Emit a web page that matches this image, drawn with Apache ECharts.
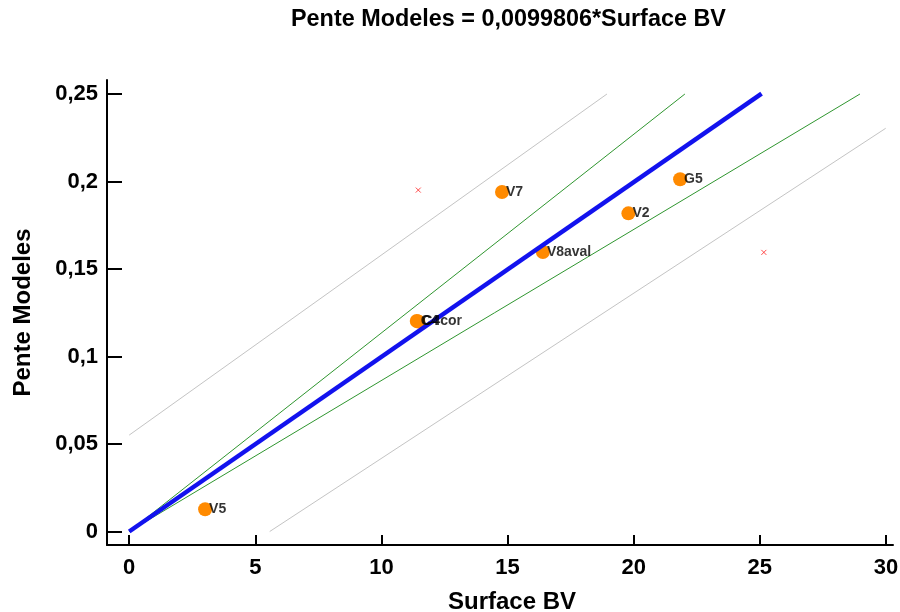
<!DOCTYPE html>
<html>
<head>
<meta charset="utf-8">
<script src="https://cdn.jsdelivr.net/npm/echarts@6/dist/echarts.min.js"></script>
<style>html,body{margin:0;padding:0;background:#fff;}#c{width:900px;height:612px;}</style>
</head>
<body>
<div id="c"></div>
<script>
// ---- data ----
const titleText = 'Pente Modeles = 0,0099806*Surface BV';
const xName = 'Surface BV';
const yName = 'Pente Modeles';
const xTicks = [0, 5, 10, 15, 20, 25, 30];
const yTicks = [0, 0.05, 0.1, 0.15, 0.2, 0.25];

const pointNames = ['V5', 'C4', 'C4cor', 'V7', 'V8aval', 'V2', 'G5'];
const surfaceBV = [3.01, 11.40, 11.46, 14.78, 16.40, 19.79, 21.84];
const penteModeles = [0.0127, 0.1203, 0.1200, 0.194, 0.1597, 0.1818, 0.2013];

const fitX = [0, 25.07];
const fitY = [0, 0.2502];
const confUpX = [0, 22.03];
const confUpY = [0, 0.25];
const confLoX = [0, 28.97];
const confLoY = [0, 0.25];
const predUpX = [0, 18.94];
const predUpY = [0.0551, 0.25];
const predLoX = [5.57, 29.99];
const predLoY = [0, 0.2304];
const outlierX = [11.46, 25.16];
const outlierY = [0.1951, 0.1595];

// ---- chart ----
const FONT = "'Liberation Sans', Arial, sans-serif";
const pairs = (xs, ys) => xs.map((x, i) => [x, ys[i]]);
const fmt = v => String(+v.toFixed(4)).replace('.', ',');

const lineSeries = (xs, ys, color, width, z) => ({
  type: 'line', data: pairs(xs, ys), symbol: 'none', silent: true, z: z,
  lineStyle: { color: color, width: width }, animation: false
});

const chart = echarts.init(document.getElementById('c'), null, { renderer: 'canvas' });
chart.setOption({
  animation: false,
  backgroundColor: '#ffffff',
  title: {
    text: titleText, left: 291, top: 8, padding: 0,
    textStyle: { fontFamily: FONT, fontWeight: 'bold', fontSize: 23.4, color: '#000' }
  },
  grid: { left: 107, right: 7, top: 80, bottom: 67, containLabel: false, outerBoundsMode: 'none' },
  xAxis: {
    type: 'value', min: -0.88, max: 30.28,
    name: xName, nameLocation: 'middle', nameGap: 45,
    nameTextStyle: { fontFamily: FONT, fontWeight: 'bold', fontSize: 24, color: '#000', padding: [0, 0, 0, 24] },
    axisLine: { onZero: false, lineStyle: { color: '#000', width: 2 } },
    axisTick: { inside: true, length: 10, lineStyle: { color: '#000', width: 2 }, customValues: xTicks },
    axisLabel: { customValues: xTicks, margin: 12, fontFamily: FONT, fontWeight: 'bold', fontSize: 22, color: '#000', formatter: v => fmt(v) },
    splitLine: { show: false }
  },
  yAxis: {
    type: 'value', min: -0.0077, max: 0.258,
    name: yName, nameLocation: 'middle', nameGap: 72, nameRotate: 90,
    nameTextStyle: { fontFamily: FONT, fontWeight: 'bold', fontSize: 24, color: '#000' },
    axisLine: { onZero: false, lineStyle: { color: '#000', width: 2 } },
    axisTick: { inside: true, length: 15, lineStyle: { color: '#000', width: 2 }, customValues: yTicks },
    axisLabel: { customValues: yTicks, margin: 9, fontFamily: FONT, fontWeight: 'bold', fontSize: 22, color: '#000', formatter: v => fmt(v) },
    splitLine: { show: false }
  },
  series: [
    lineSeries(predUpX, predUpY, '#c4c4c4', 1, 1),
    lineSeries(predLoX, predLoY, '#c4c4c4', 1, 1),
    lineSeries(confUpX, confUpY, '#2f962f', 1, 1),
    lineSeries(confLoX, confLoY, '#2f962f', 1, 1),
    {
      type: 'scatter', z: 2, symbol: 'circle', symbolSize: 14,
      data: pairs(surfaceBV, penteModeles),
      itemStyle: { color: '#ff8a00', opacity: 1 },
      label: { show: false }
    },
    lineSeries(fitX, fitY, '#1212ee', 4.5, 3),
    {
      type: 'scatter', z: 4, symbol: 'circle', symbolSize: 14,
      data: pointNames.map((n, i) => ({ name: n, value: [surfaceBV[i], penteModeles[i]] })),
      itemStyle: { color: 'rgba(0,0,0,0)' },
      label: {
        show: true, position: [11, 7], align: 'left', verticalAlign: 'middle',
        formatter: p => p.name,
        fontFamily: FONT, fontWeight: 'bold', fontSize: 14, color: '#000'
      }
    },
    {
      type: 'scatter', z: 5, symbol: 'path://M0,0L10,10M10,0L0,10', symbolSize: 5,
      data: pairs(outlierX, outlierY),
      itemStyle: { color: 'rgba(0,0,0,0)', borderColor: '#ff2020', borderWidth: 1 }
    }
  ]
});
</script>
</body>
</html>
